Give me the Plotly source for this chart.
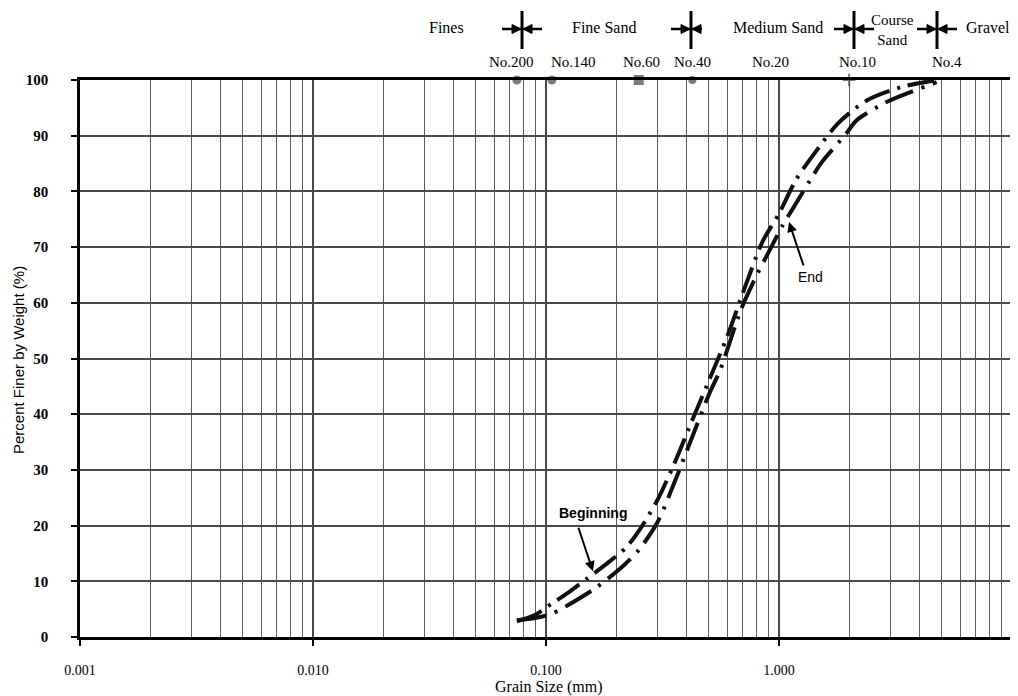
import numpy as np
import plotly.graph_objects as go

# ---------------- data ----------------
sieve_names = ["No.200", "No.140", "No.60", "No.40", "No.20", "No.10", "No.4"]
sieve_sizes = [0.075, 0.106, 0.25, 0.425, 0.85, 2.0, 4.75]
marker_names = ["No.200", "No.140", "No.60", "No.40", "No.10"]
marker_sizes_mm = [0.075, 0.106, 0.25, 0.425, 2.0]
marker_pct = [100, 100, 100, 100, 100]

begin_x = [0.075, 0.09, 0.106, 0.125, 0.15, 0.18, 0.22, 0.25, 0.3, 0.35, 0.425,
           0.5, 0.6, 0.71, 0.85, 1.0, 1.18, 1.43, 1.8, 2.4, 3.4, 4.75]
begin_y = [2.8, 4.0, 6.0, 8.0, 10.5, 13.0, 16.0, 19.0, 24.5, 30.5, 39.0,
           46.0, 54.0, 62.5, 71.0, 76.0, 82.0, 87.0, 92.3, 96.4, 98.8, 100.0]

end_x = [0.075, 0.09, 0.106, 0.14, 0.166, 0.216, 0.25, 0.3, 0.35, 0.425, 0.5,
         0.56, 0.69, 0.81, 0.89, 1.04, 1.15, 1.36, 1.53, 1.92, 2.16, 2.85, 3.4, 4.75]
end_y = [3.0, 3.4, 4.2, 7.0, 9.0, 12.9, 15.6, 20.5, 27.0, 36.0, 43.5,
         48.0, 59.0, 65.3, 68.6, 74.0, 77.0, 82.0, 85.3, 90.1, 92.8, 95.9, 97.3, 99.6]

y_ticks = [0, 10, 20, 30, 40, 50, 60, 70, 80, 90, 100]
x_tick_vals = [0.001, 0.01, 0.1, 1, 10]
x_tick_text = ["0.001", "0.010", "0.100", "1.000", ""]
legend_labels = ["Fines", "Fine Sand", "Medium Sand", "Course<br>Sand", "Gravel"]

# ---------------- layout helpers ----------------
# the page has an 8px body margin, so the figure is drawn 8px in from the window corner
OFF = 8
W, H = 1018 - OFF, 696 - OFF
PL, PR, PT, PB = 80, 1012, 80, 637   # plot area in window pixels
ML, MT = PL - OFF, PT - OFF
MR, MB = W - (PR - OFF), H - (PB - OFF)
PW, PH = PR - PL, PB - PT


def P(px, py):
    """window pixel -> paper coords"""
    return (px - PL) / PW, (PB - py) / PH


SERIF = "Liberation Serif"
SANS = "Liberation Sans"

fig = go.Figure()

fig.add_trace(go.Scatter(x=begin_x, y=begin_y, mode="lines", name="Beginning",
                         line=dict(color="#111111", width=4, dash="27px,8px,3px,8px",
                                   shape="spline", smoothing=0.8),
                         showlegend=False))
fig.add_trace(go.Scatter(x=end_x, y=end_y, mode="lines", name="End",
                         line=dict(color="#111111", width=4, dash="30px,9px,3px,9px",
                                   shape="spline", smoothing=0.8),
                         showlegend=False))

# sieve markers on top edge
fig.add_trace(go.Scatter(x=marker_sizes_mm, y=marker_pct, mode="markers", cliponaxis=False,
                         marker=dict(symbol=["circle", "circle", "square", "circle", "cross-thin"],
                                     size=[7, 7, 8, 6, 9], color="#444444",
                                     line=dict(color="#444444", width=2)),
                         showlegend=False, hoverinfo="skip"))

# minor grid positions (2..9 in each decade)
minor_vals = [m * 10.0 ** e for e in range(-3, 1) for m in range(2, 10)]

fig.update_xaxes(type="log", range=[-3, 1], tickmode="array", tickvals=x_tick_vals, ticktext=x_tick_text,
                 showgrid=True, gridcolor="#4a4a4a", gridwidth=1.6,
                 ticks="outside", ticklen=6, tickwidth=1.5, tickcolor="black",
                 showline=True, linecolor="black", linewidth=2.5, mirror=True,
                 tickfont=dict(family=SERIF, size=14, color="black"), ticklabelstandoff=12,
                 minor=dict(tickmode="array", tickvals=minor_vals, showgrid=True,
                            gridcolor="#5c5c5c", gridwidth=1.3, ticks=""),
                 zeroline=False)
fig.update_yaxes(range=[0, 100], tickmode="array", tickvals=y_ticks,
                 showgrid=True, gridcolor="#4a4a4a", gridwidth=1.6,
                 ticks="outside", ticklen=6, tickwidth=1.5, tickcolor="black",
                 showline=True, linecolor="black", linewidth=2.5,
                 tickfont=dict(family=SERIF, size=15, color="black", weight="bold"), ticklabelstandoff=20,
                 zeroline=False)

shapes = []
# right border
shapes.append(dict(type="line", xref="paper", yref="paper", x0=1, x1=1, y0=0, y1=1,
                   line=dict(color="#666666", width=1.5)))

# legend boundary symbols
sym_x = [522, 691, 854, 937]
cy = 29
for i, cx in enumerate(sym_x):
    x0, y0 = P(cx, 11)
    x1, y1 = P(cx, 49)
    shapes.append(dict(type="line", xref="paper", yref="paper", x0=x0, x1=x1, y0=y0, y1=y1,
                       line=dict(color="black", width=3)))
    a, b = P(cx - 20, cy)
    c, d = P(cx - 2, cy)
    shapes.append(dict(type="line", xref="paper", yref="paper", x0=a, x1=c, y0=b, y1=d,
                       line=dict(color="black", width=2.5)))
    a, b = P(cx + 2, cy)
    c, d = P(cx + 20, cy)
    shapes.append(dict(type="line", xref="paper", yref="paper", x0=a, x1=c, y0=b, y1=d,
                       line=dict(color="black", width=2.5, dash="dash" if i == 1 else "solid")))
    for sgn in (-1, 1):
        t = P(cx + sgn * 1, cy)
        u = P(cx + sgn * 10, cy - 4.5)
        v = P(cx + sgn * 10, cy + 4.5)
        path = f"M {t[0]},{t[1]} L {u[0]},{u[1]} L {v[0]},{v[1]} Z"
        shapes.append(dict(type="path", xref="paper", yref="paper", path=path,
                           fillcolor="black", line=dict(color="black", width=1)))

annotations = []
legend_cx = [446, 604, 778, 892, 988]
for lab, cx in zip(legend_labels, legend_cx):
    course = "Course" in lab
    px, py = P(cx, 30 if course else 28)
    annotations.append(dict(text=lab, x=px, y=py, xref="paper", yref="paper", showarrow=False,
                            xanchor="center", yanchor="middle",
                            font=dict(family=SERIF, size=15 if course else 16, color="black")))

label_shift = [-5, 22, 3, 0, 8, 8, 10]
for name, size, sh in zip(sieve_names, sieve_sizes, label_shift):
    annotations.append(dict(text=name, x=np.log10(size), y=P(0, 62)[1], xref="x", yref="paper",
                            xshift=sh, showarrow=False, xanchor="center", yanchor="middle",
                            font=dict(family=SERIF, size=15, color="black")))

# Beginning / End labels with arrows
annotations.append(dict(text="", x=np.log10(0.159), y=11.8, xref="x", yref="y", showarrow=True,
                        ax=-15, ay=-45, arrowhead=2, arrowsize=1, arrowwidth=2, arrowcolor="black"))
annotations.append(dict(text="<b>Beginning</b>", x=np.log10(0.159), y=22.3, xref="x", yref="y",
                        showarrow=False, font=dict(family=SANS, size=14, color="black")))
annotations.append(dict(text="", x=np.log10(1.104), y=74.5, xref="x", yref="y", showarrow=True,
                        ax=15, ay=45, arrowhead=2, arrowsize=1, arrowwidth=2, arrowcolor="black"))
annotations.append(dict(text="End", x=np.log10(1.36), y=64.6, xref="x", yref="y",
                        showarrow=False, font=dict(family=SANS, size=14, color="black")))

# axis titles
tx, ty = P(549, 687)
annotations.append(dict(text="Grain Size (mm)", x=tx, y=ty, xref="paper", yref="paper", showarrow=False,
                        xanchor="center", yanchor="middle", font=dict(family=SERIF, size=16, color="black")))
tx, ty = P(18, 360)
annotations.append(dict(text="Percent Finer by Weight (%)", x=tx, y=ty, xref="paper", yref="paper",
                        showarrow=False, textangle=-90, xanchor="center", yanchor="middle",
                        font=dict(family=SANS, size=15, color="black")))

fig.update_layout(width=W, height=H, margin=dict(l=ML, r=MR, t=MT, b=MB),
                  plot_bgcolor="white", paper_bgcolor="white",
                  shapes=shapes, annotations=annotations, showlegend=False)

fig.write_html("out.html")
